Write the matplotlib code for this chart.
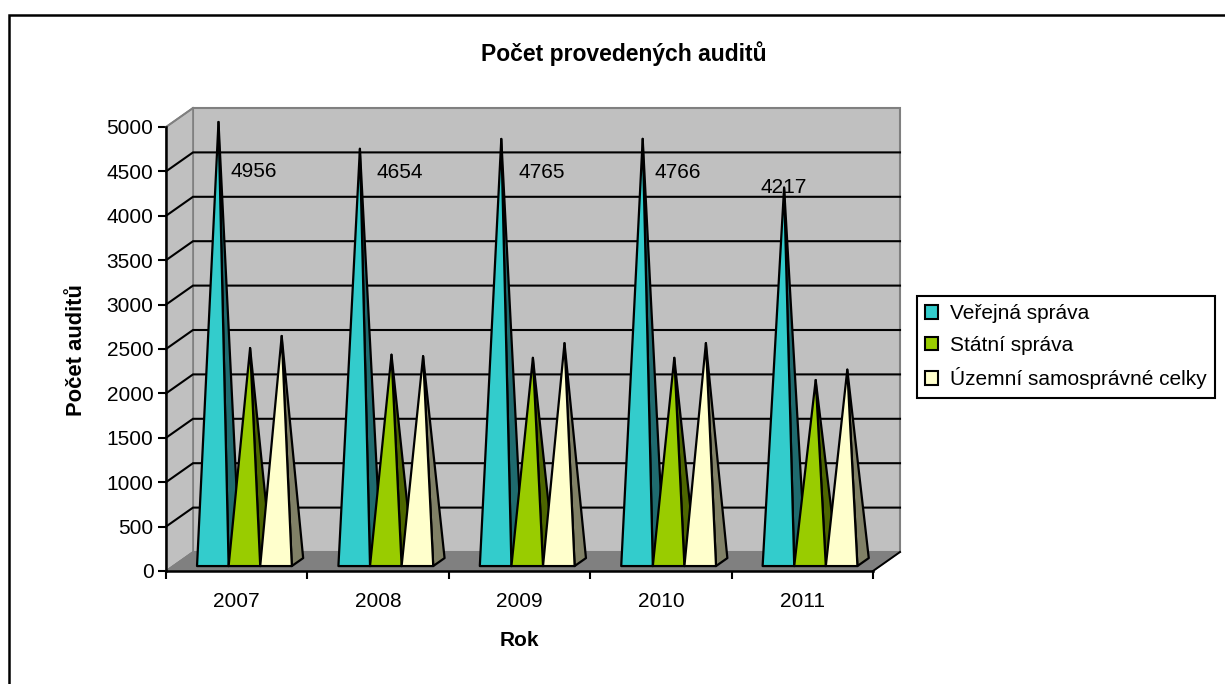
import matplotlib
matplotlib.use("Agg")
import matplotlib.pyplot as plt
from matplotlib.patches import Polygon, Patch
from matplotlib.lines import Line2D

plt.rcParams['font.family'] = ['Liberation Sans', 'DejaVu Sans']

years = ['2007', '2008', '2009', '2010', '2011']
verejna = [4956, 4654, 4765, 4766, 4217]
statni = [2410, 2335, 2300, 2300, 2050]
uzemni = [2546, 2319, 2465, 2466, 2167]
series_names = ['Veřejná správa', 'Státní správa', 'Územní samosprávné celky']
front_colors = ['#33CCCC', '#99CC00', '#FFFFCC']
side_colors = ['#1F6B6F', '#4D6600', '#808066']
label_offsets = [(35, -50), (40, -24), (40, -34), (35, -34), (0, 0)]
y_ticks = list(range(0, 5001, 500))

W, H = 1225, 684
fig = plt.figure(figsize=(W / 100, H / 100), dpi=100, facecolor='white')
ax = fig.add_axes([166 / W, 1 - 571 / H, 707 / W, 444 / H])
ax.set_xlim(0, len(years))
ax.set_ylim(0, 5000)
ax.patch.set_visible(False)

# oblique projection: depth 1 = full depth of the 3-D box
DX = 27 / (707 / 5)
DY = 19 / (444 / 5000)


def proj(x, v, d):
    return (x + d * DX, v + d * DY)


def poly(points, **kw):
    kw.setdefault('clip_on', False)
    ax.add_patch(Polygon(points, closed=True, **kw))


xmax = len(years)
# walls and floor
poly([proj(0, 0, 1), proj(xmax, 0, 1), proj(xmax, 5000, 1), proj(0, 5000, 1)],
     facecolor='#C0C0C0', edgecolor='#808080', lw=1.5, zorder=1)
poly([proj(0, 0, 0), proj(0, 0, 1), proj(0, 5000, 1), proj(0, 5000, 0)],
     facecolor='#C0C0C0', edgecolor='#808080', lw=1.2, zorder=1)
poly([proj(0, 0, 0), proj(0, 0, 1), proj(xmax, 0, 1), proj(xmax, 0, 0)],
     facecolor='#808080', edgecolor='#808080', lw=1, zorder=1.5)

# gridlines
for t in y_ticks[1:-1]:
    xs, ys = zip(proj(0, t, 0), proj(0, t, 1), proj(xmax, t, 1))
    ax.plot(xs, ys, color='black', lw=1.5, zorder=2, clip_on=False, solid_joinstyle='miter')
xs, ys = zip(proj(0, 0, 0), proj(0, 0, 1))
ax.plot(xs, ys, color='#808080', lw=1, zorder=2, clip_on=False)
xs, ys = zip(proj(xmax, 0, 0), proj(xmax, 0, 1))
ax.plot(xs, ys, color='black', lw=1.4, zorder=2, clip_on=False)
xs, ys = zip(proj(0, 5000, 0), proj(0, 5000, 1))
ax.plot(xs, ys, color='#808080', lw=1.4, zorder=2, clip_on=False)

# pyramids
bar_w = 31.6 / (707 / 5)
start = 24 / (707 / 5)
d0, d1 = 0.26, 0.68
dm = (d0 + d1) / 2
z = 3.0
for j, vals in enumerate([verejna, statni, uzemni]):
    for i, v in enumerate(vals):
        x0 = i + start + j * bar_w
        x1 = x0 + bar_w
        xm = (x0 + x1) / 2
        apex = proj(xm, v, dm)
        poly([proj(x1, 0, d0), proj(x1, 0, d1), apex],
             facecolor=side_colors[j], edgecolor='black', lw=1.6, zorder=z,
             joinstyle='round')
        poly([proj(x0, 0, d0), proj(x1, 0, d0), apex],
             facecolor=front_colors[j], edgecolor='black', lw=1.6, zorder=z + 0.1,
             joinstyle='round')
        z += 0.2

# data labels of the first series
for i, v in enumerate(verejna):
    xm = i + start + 0.5 * bar_w
    ax.annotate(str(v), xy=proj(xm, v, dm), xytext=label_offsets[i],
                textcoords='offset pixels', ha='center', va='center',
                fontsize=15, color='black', zorder=50, annotation_clip=False)

# axes
for s in ('top', 'right'):
    ax.spines[s].set_visible(False)
for s in ('left', 'bottom'):
    ax.spines[s].set_linewidth(1.8)
    ax.spines[s].set_zorder(40)
ax.set_yticks(y_ticks)
ax.tick_params(axis='y', length=6, width=1.5, labelsize=15, pad=3)
ax.set_xticks(range(len(years) + 1))
ax.set_xticklabels([])
ax.set_xticks([i + 0.5 for i in range(len(years))], minor=True)
ax.set_xticklabels(years, minor=True, fontsize=15)
ax.tick_params(axis='x', which='major', length=6, width=1.5)
ax.tick_params(axis='x', which='minor', length=0, pad=15)

fig.text(624 / W, 1 - 54 / H, 'Počet provedených auditů', fontsize=16.5,
         fontweight='bold', ha='center', va='center')
fig.text(519 / W, 1 - 640 / H, 'Rok', fontsize=15, fontweight='bold',
         ha='center', va='center')
fig.text(76 / W, 1 - 350 / H, 'Počet auditů', fontsize=15.8, fontweight='bold',
         rotation=90, ha='center', va='center')

handles = [Patch(facecolor=c, edgecolor='black', lw=1.5) for c in front_colors]
leg = fig.legend(handles, series_names, loc='upper left',
                 bbox_to_anchor=(917 / W, 1 - 296 / H), borderaxespad=0,
                 fontsize=15, frameon=True, fancybox=False, edgecolor='black',
                 framealpha=1, handlelength=0.62, handleheight=0.62,
                 handletextpad=0.55, labelspacing=0.6, borderpad=0.4)
leg.get_frame().set_linewidth(1.5)

# chart frame: top and left edges only, the rest is cropped off
fig.add_artist(Line2D([8.5 / W, 8.5 / W, 1], [0, 1 - 15 / H, 1 - 15 / H],
                      transform=fig.transFigure, color='black', lw=1.8,
                      solid_joinstyle='miter'))

fig.savefig('out.png', dpi=100)
